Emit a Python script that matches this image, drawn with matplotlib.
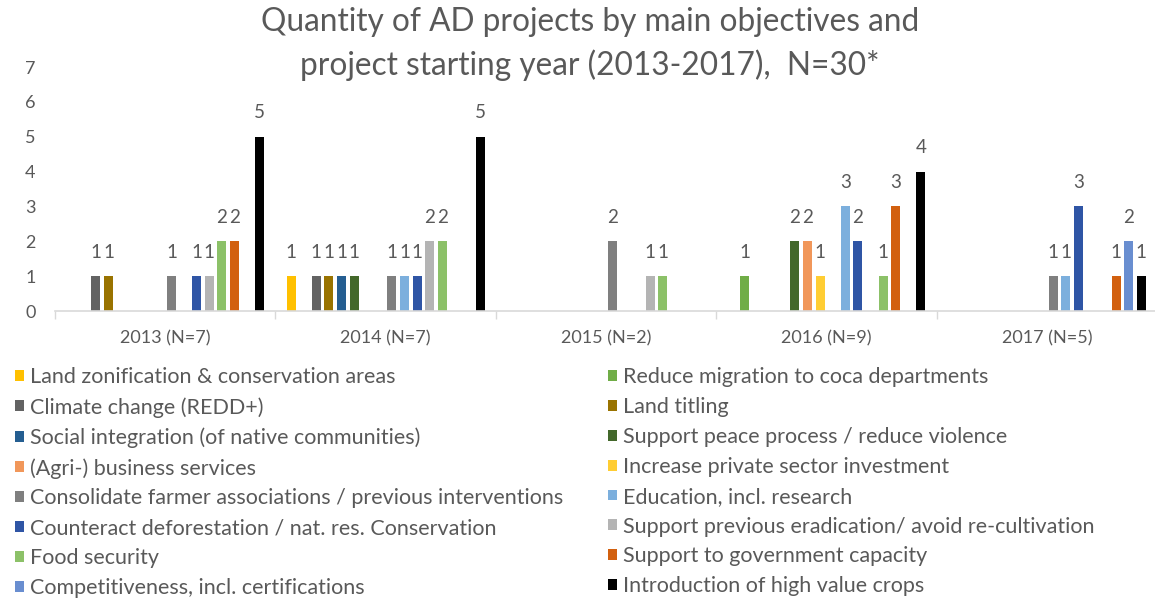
import numpy as np
import matplotlib
matplotlib.use("Agg")
import matplotlib.pyplot as plt
from matplotlib.patches import Patch

nan = np.nan

years = ["2013 (N=7)", "2014 (N=7)", "2015 (N=2)", "2016 (N=9)", "2017 (N=5)"]

objectives = [
    "Land zonification & conservation areas",
    "Reduce migration to coca departments",
    "Climate change (REDD+)",
    "Land titling",
    "Social integration (of native communities)",
    "Support peace process / reduce violence",
    "(Agri-) business services",
    "Increase private sector investment",
    "Consolidate farmer associations / previous interventions",
    "Education, incl. research",
    "Counteract deforestation / nat. res. Conservation",
    "Support previous eradication/ avoid re-cultivation",
    "Food security",
    "Support to government capacity",
    "Competitiveness, incl. certifications",
    "Introduction of high value crops",
]

land_zonification = [nan, 1, nan, nan, nan]
reduce_migration = [nan, nan, nan, 1, nan]
climate_change = [1, 1, nan, nan, nan]
land_titling = [1, 1, nan, nan, nan]
social_integration = [nan, 1, nan, nan, nan]
peace_process = [nan, 1, nan, 2, nan]
business_services = [nan, nan, nan, 2, nan]
private_investment = [nan, nan, nan, 1, nan]
farmer_associations = [1, 1, 2, nan, 1]
education = [nan, 1, nan, 3, 1]
deforestation = [1, 1, nan, 2, 3]
eradication = [1, 2, 1, nan, nan]
food_security = [2, 2, 1, 1, nan]
government_capacity = [2, nan, nan, 3, 1]
competitiveness = [nan, nan, nan, nan, 2]
high_value_crops = [5, 5, nan, 4, 1]

series_values = [
    land_zonification, reduce_migration, climate_change, land_titling,
    social_integration, peace_process, business_services, private_investment,
    farmer_associations, education, deforestation, eradication,
    food_security, government_capacity, competitiveness, high_value_crops,
]

colors = [
    "#FFC000", "#70AD47", "#636363", "#997300",
    "#255E91", "#43682B", "#F1975A", "#FFCD33",
    "#7F7F7F", "#7CAFDD", "#2F55A5", "#B4B4B4",
    "#8CC168", "#D2600F", "#698ED0", "#000000",
]

text_color = "#595959"
font = "Lato"
plt.rcParams["font.family"] = [font, "DejaVu Sans"]

fig = plt.figure(figsize=(11.55, 6.04), dpi=100)
ax = fig.add_axes([55 / 1155, 1 - 311 / 604, 1102 / 1155, 244 / 604])

n = len(series_values)
gap = 0.085
slot = (1 - gap) / n
bar_w = slot * 0.72
x = np.arange(len(years))

for k, (vals, col) in enumerate(zip(series_values, colors)):
    offs = -0.5 + gap / 2 + (k + 0.5) * slot
    v = np.array(vals, dtype=float)
    bars = ax.bar(x + offs, v, width=bar_w, color=col, label=objectives[k])
    labels = ["" if np.isnan(val) else f"{int(val)}" for val in v]
    ax.bar_label(bars, labels=labels, padding=11, fontsize=13.5, color=text_color)

ax.set_xlim(-0.5, len(years) - 0.5)
ax.set_ylim(0, 7)
ax.set_yticks(range(0, 8))
ax.set_xticks(x)
ax.set_xticklabels(years)
ax.set_xticks(np.arange(-0.5, len(years)), minor=True)
ax.tick_params(axis="x", which="major", length=0, pad=14, labelsize=13, labelcolor=text_color)
ax.tick_params(axis="x", which="minor", length=6, color="#D9D9D9", width=1)
ax.tick_params(axis="y", length=0, pad=14, labelsize=13, labelcolor=text_color)
for side in ["left", "right", "top"]:
    ax.spines[side].set_visible(False)
ax.spines["bottom"].set_color("#D9D9D9")
ax.spines["bottom"].set_linewidth(1.2)

fig.text(0.511, 0.963, "Quantity of AD projects by main objectives and",
         ha="center", va="center", fontsize=22.8, color=text_color)
fig.text(0.511, 0.892, "project starting year (2013-2017),  N=30*",
         ha="center", va="center", fontsize=22.8, color=text_color)

handles = [Patch(facecolor=c, edgecolor="none") for c in colors]
left_idx = list(range(0, n, 2))
right_idx = list(range(1, n, 2))
for idx, xpos in [(left_idx, 0 / 1155), (right_idx, 593 / 1155)]:
    fig.legend([handles[i] for i in idx], [objectives[i] for i in idx],
               loc="upper left", bbox_to_anchor=(xpos, 1 - 352 / 604),
               frameon=False, fontsize=15.5, labelcolor=text_color,
               handlelength=0.4, handleheight=0.4, handletextpad=0.3,
               labelspacing=0.46, borderaxespad=0.3)

fig.savefig("out.png", dpi=100, facecolor="white")
